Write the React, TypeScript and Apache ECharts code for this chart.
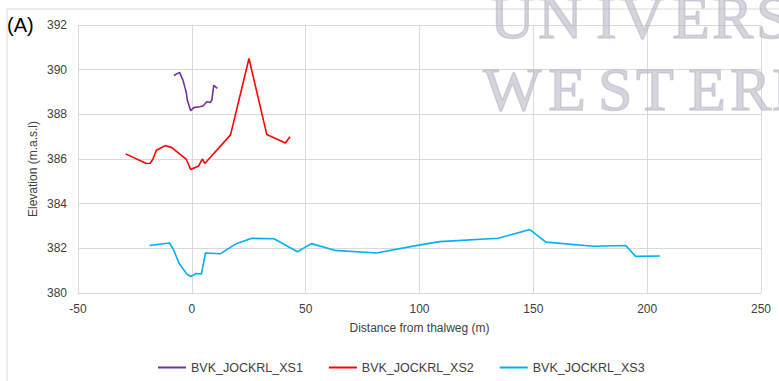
import React, { useEffect, useRef } from "react";
import * as echarts from "echarts";

const seriesNames = ["BVK_JOCKRL_XS1", "BVK_JOCKRL_XS2", "BVK_JOCKRL_XS3"];

const xs1X = [-7.9, -5.4, -3.9, -2.4, -2.0, -0.5, 0.8, 3.4, 4.9, 6.6, 8.1, 8.8, 9.6, 11.2];
const xs1Y = [389.74, 389.88, 389.53, 388.96, 388.64, 388.16, 388.3, 388.34, 388.37, 388.56, 388.53, 388.64, 389.3, 389.16];

const xs2X = [-29.1, -20.0, -18.3, -17.1, -15.6, -11.7, -8.8, -2.4, -0.5, 3.0, 4.6, 5.7, 17.0, 25.1, 32.9, 41.1, 43.1];
const xs2Y = [386.23, 385.8, 385.81, 385.99, 386.39, 386.6, 386.51, 385.98, 385.53, 385.69, 386.0, 385.8, 387.08, 390.5, 387.1, 386.72, 387.0];

const xs3X = [-18.6, -9.8, -7.9, -5.7, -2.4, -0.5, 2.0, 4.2, 6.0, 12.6, 19.5, 26.4, 36.1, 46.4, 52.5, 62.8, 81.1, 97.2, 108.9, 134.5, 148.5, 155.5, 176.3, 190.6, 194.9, 205.6];
const xs3Y = [382.13, 382.24, 381.91, 381.34, 380.87, 380.74, 380.87, 380.85, 381.79, 381.76, 382.21, 382.45, 382.43, 381.85, 382.21, 381.91, 381.79, 382.1, 382.3, 382.45, 382.84, 382.28, 382.09, 382.13, 381.64, 381.66];

const colors = ["#7030A0", "#FF0000", "#00B0F0"];

const xMin = -50, xMax = 250, xStep = 50;
const yMin = 380, yMax = 392, yStep = 2;

const xTitle = "Distance from thalweg (m)";
const yTitle = "Elevation (m.a.s.l)";
const panelLabel = "(A)";

const wmRow1 = ["U", "N", "I", "V", "E", "R", "S"];
const wmRow2 = ["W", "E", "S", "T", "E", "R", "N"];

function zip(xs: number[], ys: number[]) {
  return xs.map((x, i) => [x, ys[i]]);
}

export default function App() {
  const ref = useRef<HTMLDivElement>(null);
  useEffect(() => {
    if (!ref.current) return;
    const chart = echarts.init(ref.current, undefined, { renderer: "svg" });
    const font = "'Liberation Sans', Arial, sans-serif";
    const wmPos1 = [490, 538, 596, 620, 672, 712, 756];
    const wmPos2 = [483, 548, 598, 636, 688, 730, 772];
    const wmStyle = {
      fill: "#b9b9c8",
      stroke: "#b9b9c8",
      lineWidth: 1.5,
      opacity: 0.6,
      font: "62px 'Liberation Serif', 'DejaVu Serif', serif",
    };
    const wm: any[] = [];
    wmRow1.forEach((ch, i) =>
      wm.push({ type: "text", x: wmPos1[i], y: -14, z: 100, silent: true, style: { text: ch, ...wmStyle } })
    );
    wmRow2.forEach((ch, i) =>
      wm.push({ type: "text", x: wmPos2[i], y: 58, z: 100, silent: true, style: { text: ch, ...wmStyle } })
    );
    const data = [zip(xs1X, xs1Y), zip(xs2X, xs2Y), zip(xs3X, xs3Y)];
    chart.setOption({
      animation: false,
      backgroundColor: "#ffffff",
      textStyle: { fontFamily: font },
      grid: { left: 78, right: 18, top: 25, bottom: 88, containLabel: false },
      xAxis: {
        type: "value",
        min: xMin,
        max: xMax,
        interval: xStep,
        name: xTitle,
        nameLocation: "middle",
        nameGap: 29,
        nameTextStyle: { color: "#404040", fontSize: 12, fontFamily: font },
        axisLine: { show: true, lineStyle: { color: "#d9d9d9" } },
        axisTick: { show: false },
        axisLabel: { color: "#404040", fontSize: 12, margin: 10, fontFamily: font },
        splitLine: { show: true, lineStyle: { color: "#d9d9d9", width: 1 } },
      },
      yAxis: {
        type: "value",
        min: yMin,
        max: yMax,
        interval: yStep,
        axisLine: { show: true, lineStyle: { color: "#d9d9d9" } },
        axisTick: { show: false },
        axisLabel: { color: "#404040", fontSize: 12, margin: 11, fontFamily: font },
        splitLine: { show: true, lineStyle: { color: "#d9d9d9", width: 1 } },
      },
      legend: {
        left: 153,
        top: 356,
        itemWidth: 28,
        itemHeight: 2,
        itemGap: 26,
        icon: "rect",
        textStyle: { color: "#404040", fontSize: 12.5, fontFamily: font },
        data: seriesNames,
      },
      series: seriesNames.map((n, i) => ({
        name: n,
        type: "line",
        data: data[i],
        showSymbol: false,
        symbol: "none",
        lineStyle: { color: colors[i], width: 1.6 },
        itemStyle: { color: colors[i] },
      })),
      graphic: [
        {
          type: "rect",
          z: -1,
          silent: true,
          shape: { x: 7, y: 9, width: 900, height: 500 },
          style: { fill: "none", stroke: "#d9d9d9", lineWidth: 1 },
        },
        {
          type: "text",
          x: 7,
          y: 15,
          style: { text: panelLabel, fill: "#000000", font: `20px ${font}` },
        },
        {
          type: "text",
          x: 33,
          y: 169,
          rotation: Math.PI / 2,
          style: {
            text: yTitle,
            fill: "#404040",
            font: `12px ${font}`,
            align: "center",
            verticalAlign: "middle",
          },
        },
        ...wm,
      ],
    });
    return () => chart.dispose();
  }, []);
  return (
    <div
      ref={ref}
      style={{ position: "fixed", left: 0, top: 0, width: 779, height: 381 }}
    />
  );
}
